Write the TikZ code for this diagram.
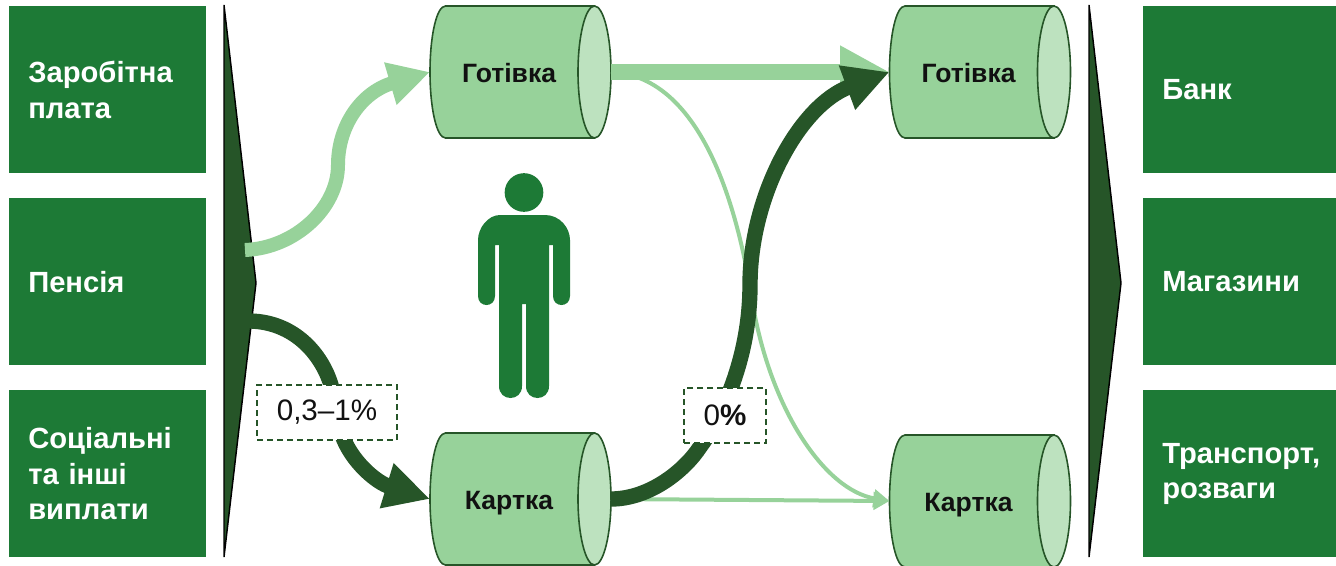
\documentclass[tikz,border=0pt]{standalone}
\usepackage{fontspec}
\setmainfont{Liberation Sans}
\usetikzlibrary{arrows.meta}
\definecolor{boxgreen}{HTML}{1D7A36}
\definecolor{darkgreen}{HTML}{265528}
\definecolor{lightgreen}{HTML}{97D29A}
\definecolor{endgreen}{HTML}{BDE2BF}
\definecolor{inktext}{HTML}{111111}
\tikzset{
  px/.style={x=0.75pt,y=-0.75pt},
  srcbox/.style={rectangle,fill=boxgreen,text=white,font=\fontsize{21.9}{26.6}\selectfont\bfseries,
    minimum height=125.25pt,align=left,inner xsep=14.25pt,inner ysep=0pt,anchor=north west},
  leftbox/.style={srcbox,minimum width=147.75pt,text width=119.25pt},
  rightbox/.style={srcbox,minimum width=144.75pt,text width=116.25pt},
  barrelbody/.style={draw=darkgreen,line width=1.2pt,fill=lightgreen},
  barrelend/.style={draw=darkgreen,line width=1.2pt,fill=endgreen},
  barreltext/.style={rectangle,minimum width=135.75pt,minimum height=99pt,inner sep=0pt,outer sep=0pt,
    text=inktext,font=\fontsize{19.9}{23}\selectfont\bfseries},
  wedge/.style={fill=darkgreen,draw=black,line width=1.1pt,line join=miter},
  ratebox/.style={rectangle,draw=darkgreen,fill=white,line width=1.1pt,dash pattern=on 4.5pt off 3pt,inner sep=0pt,
    text=inktext,font=\fontsize{22.2}{26}\selectfont},
  thicklight/.style={draw=lightgreen,line width=10.5pt,-{Triangle[length=31pt,width=31pt]}},
  thickdark/.style={draw=darkgreen,line width=11.5pt,-{Triangle[length=34pt,width=33pt]}},
  straightlight/.style={draw=lightgreen,line width=12pt,-{Triangle[length=37pt,width=37pt]}},
  thinlight/.style={draw=lightgreen,line width=3pt,-{Triangle[length=12pt,width=13pt]}},
  thinlightplain/.style={draw=lightgreen,line width=3pt},
}
\newcommand{\barrel}[4]{%
  \draw[barrelbody] (#2-75,#3-66) -- (#2+74,#3-66) -- (#2+74,#3+66) -- (#2-75,#3+66)
    .. controls (#2-84,#3+66) and (#2-90.5,#3+36) .. (#2-90.5,#3)
    .. controls (#2-90.5,#3-36) and (#2-84,#3-66) .. (#2-75,#3-66) -- cycle;
  \draw[barrelend] (#2+74,#3-66) .. controls (#2+83,#3-66) and (#2+90.5,#3-36) .. (#2+90.5,#3)
    .. controls (#2+90.5,#3+36) and (#2+83,#3+66) .. (#2+74,#3+66)
    .. controls (#2+65,#3+66) and (#2+57.5,#3+36) .. (#2+57.5,#3)
    .. controls (#2+57.5,#3-36) and (#2+65,#3-66) .. (#2+74,#3-66) -- cycle;
  \node[barreltext] (#1) at (#2,#3) {\raisebox{-7.9pt}[0pt][0pt]{#4}\kern17.25pt};
}
\begin{document}
\begin{tikzpicture}[px]
\useasboundingbox (0,0) rectangle (1336,565);
% source and destination boxes
\node[leftbox] (zp) at (9,6) {Заробітна\\плата};
\node[leftbox] (pen) at (9,198) {Пенсія};
\node[leftbox] (soc) at (9,390) {Соціальні\\та інші\\виплати};
\node[rightbox] (bank) at (1143,6) {Банк};
\node[rightbox] (shop) at (1143,198) {Магазини};
\node[rightbox] (trans) at (1143,390) {Транспорт,\\розваги};
% wedges
\draw[wedge] (224,5) -- (256,283) -- (224,557) -- cycle;
\draw[wedge] (1089,5) -- (1121,283) -- (1089,557) -- cycle;
% barrels
\barrel{c1}{520.5}{72}{Готівка}
\barrel{k1}{520.5}{499}{Картка}
\barrel{c2}{980}{72}{Готівка}
\barrel{k2}{980}{501}{Картка}
% free ends
\coordinate (s1) at (245,250);
\coordinate (s2) at (250,321);
% person
\fill[boxgreen] (524,192.5) circle[radius=14.5pt];
\fill[boxgreen] (500,215) -- (545,215) .. controls (560,215) and (570,228) .. (570,240)
  -- (570,296) .. controls (570,308) and (553,308) .. (553,296) -- (553,245) -- (549,245)
  -- (549,386) .. controls (549,402) and (526,402) .. (526,386) -- (526,304) -- (522,304)
  -- (522,386) .. controls (522,402) and (499,402) .. (499,386) -- (499,245) -- (495,245)
  -- (495,296) .. controls (495,308) and (478,308) .. (478,296) -- (478,240)
  .. controls (478,228) and (488,215) .. (500,215) -- cycle;
% connectors
\draw[thicklight] (s1) .. controls (295,248) and (338,208) .. (338,165)
  .. controls (338,125) and (362,92) .. (c1.west);
\draw[thinlightplain] (c1.east) .. controls (695,76) and (735,190) .. (752,300);
\draw[thinlight] (752,300) .. controls (770,410) and (825,490) .. (k2.west);
\draw[thinlight] (k1.east) -- (k2.west);
\draw[straightlight] (c1.east) -- (c2.west);
\draw[thickdark] (s2) .. controls (295,322) and (322,355) .. (331,385)
  .. controls (336,405) and (338,425) .. (344,440)
  .. controls (355,465) and (378,483) .. (k1.west);
\draw[thickdark] (k1.east) .. controls (650,499) and (685,470) .. (700,447)
  .. controls (720,420) and (750,360) .. (750,285)
  .. controls (750,195) and (800,105) .. (c2.west);
% rate labels
\node[ratebox,minimum width=105pt,minimum height=41.25pt] (r1) at (327,412.5) {0,3–1\%};
\node[ratebox,minimum width=61.5pt,minimum height=41.25pt] (r2) at (725,415.5) {0\textbf{\%}};
\end{tikzpicture}
\end{document}
